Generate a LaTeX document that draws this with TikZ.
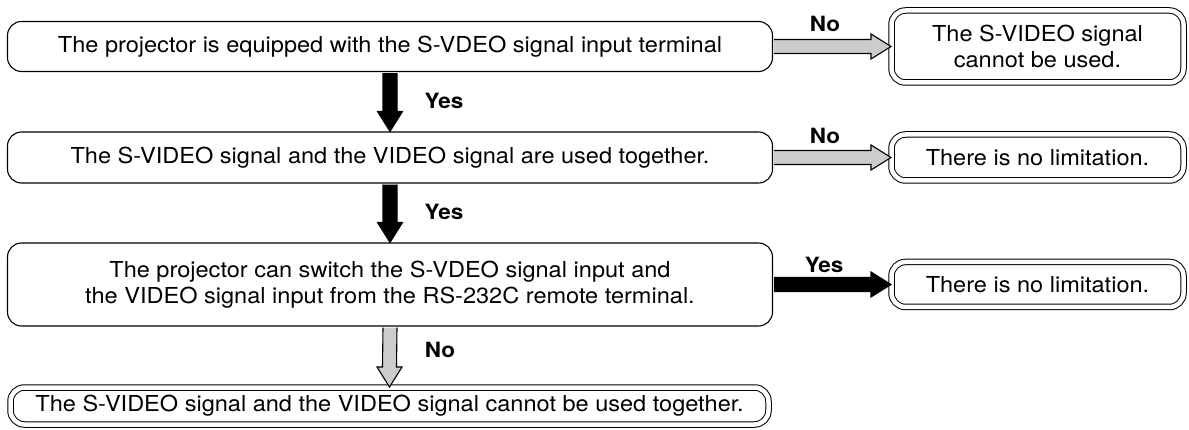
\documentclass[tikz,border=0pt]{standalone}
\usepackage{fontspec}
\setmainfont[FakeStretch=1.07]{TeX Gyre Heros}
\usetikzlibrary{calc}
\definecolor{arrowgray}{RGB}{204,204,204}
\begin{document}
\begin{tikzpicture}[
	x=1pt, y=-1pt,
	every node/.append style = {font=\fontsize{22}{26.5}\selectfont},
	qbox/.style = {draw, line width=1.1pt, rounded corners=14pt, inner sep=0pt, align=center, minimum width=765pt},
	endbox/.style = {draw, line width=1pt, double, double distance=4.5pt, rounded corners=14pt, inner sep=0pt, align=center},
	lbl/.style = {font=\fontsize{21}{24}\selectfont\bfseries, inner sep=0pt},
	harrow/.style = {draw, line width=1.1pt, line join=miter, to path={
		($(\tikztostart)+(1,-7)$) -- ($(\tikztotarget)+(-20,-7)$) -- ($(\tikztotarget)+(-20,-12.5)$) -- (\tikztotarget)
		-- ($(\tikztotarget)+(-20,12.5)$) -- ($(\tikztotarget)+(-20,7)$) -- ($(\tikztostart)+(1,7)$)}},
	varrow/.style = {draw, line width=1.1pt, line join=miter, to path={
		($(\tikztostart)+(-7,1)$) -- ($(\tikztotarget)+(-7,-20)$) -- ($(\tikztotarget)+(-12.5,-20)$) -- (\tikztotarget)
		-- ($(\tikztotarget)+(12.5,-20)$) -- ($(\tikztotarget)+(7,-20)$) -- ($(\tikztostart)+(7,1)$)}}
]

\useasboundingbox (0,0) rectangle (1189,430);

\node[qbox, minimum height=50pt] (q1) at (390,46.5) {The projector is equipped with the S-VDEO signal input terminal};
\node[qbox, minimum height=51pt] (q2) at (390,157.5) {The S-VIDEO signal and the VIDEO signal are used together.};
\node[qbox, minimum height=83pt] (q3) at (390,284.5) {The projector can switch the S-VDEO signal input and\\the VIDEO signal input from the RS-232C remote terminal.};
\node[endbox, minimum width=758pt, minimum height=37pt] (e4) at (389.5,406) {The S-VIDEO signal and the VIDEO signal cannot be used together.};

\node[endbox, minimum width=292pt, minimum height=72pt] (r1) at (1037.5,46.5) {The S-VIDEO signal\\cannot be used.};
\node[endbox, minimum width=292pt, minimum height=46pt] (r2) at (1037.5,157.5) {There is no limitation.};
\node[endbox, minimum width=292pt, minimum height=45pt] (r3) at (1037.5,284.5) {There is no limitation.};

\draw[harrow, fill=arrowgray] (q1.east) to (r1.west);
\draw[harrow, fill=arrowgray] (q2.east) to (r2.west);
\draw[harrow, fill=black] (q3.east) to (r3.west);
\draw[varrow, fill=black] (q1.south) to (q2.north);
\draw[varrow, fill=black] (q2.south) to (q3.north);
\draw[varrow, fill=arrowgray] (q3.south) to (e4.north);

\node[lbl] (no1) at (825,23.5) {No};
\node[lbl] (no2) at (825,136) {No};
\node[lbl] (yes3) at (824,265) {Yes};
\node[lbl] (yes1) at (444,101) {Yes};
\node[lbl] (yes2) at (444,212) {Yes};
\node[lbl] (no4) at (440,350) {No};

\end{tikzpicture}
\end{document}
